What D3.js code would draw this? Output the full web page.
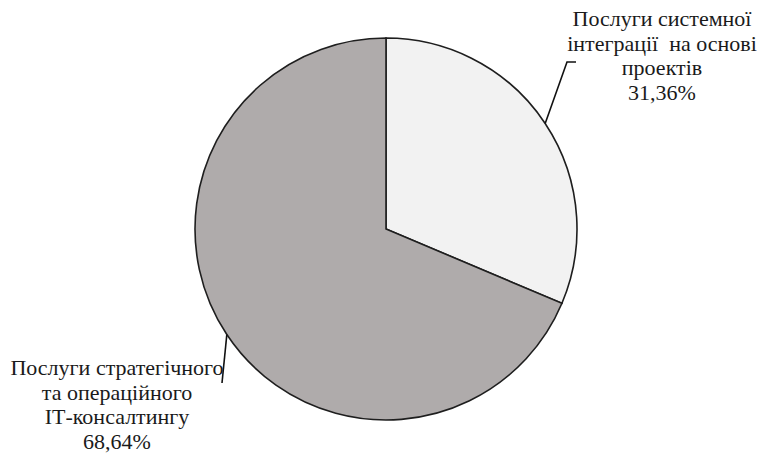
<!DOCTYPE html>
<html lang="uk">
<head>
<meta charset="utf-8">
<script src="https://cdn.jsdelivr.net/npm/d3@7"></script>
<style>
  @font-face {
    font-family: 'LabelSerif';
    src: local('Liberation Serif'), local('LiberationSerif'), local('Liberation Serif Regular'), local('LiberationSerif-Regular');
  }
  body { margin: 0; }
</style>
</head>
<body>
<svg id="chart" width="766" height="454"></svg>
<script>
'use strict';

// shares of revenue by service type, percent
var categories = ['integration', 'consulting'];
var shares = [31.36, 68.64];
var labelLines = [
  ['Послуги системної', 'інтеграції\u00a0 на основі', 'проектів'],
  ['Послуги стратегічного', 'та операційного', 'ІТ-консалтингу']
];
var sliceColors = ['#f2f2f2', '#afabab'];

var width = 766, height = 454;
var cx = 386, cy = 229, radius = 191;
var fontSize = 22, lineHeight = 24.5;
var fontFamily = "'Liberation Serif', 'LabelSerif', 'Times New Roman', 'FreeSerif', serif";

// where each label block sits and where its leader line bends
var labelBoxes = [
  { x: 662, y: 26, elbow: [567, 62], tail: [576, 62] },
  { x: 117, y: 375, elbow: [222, 383], tail: null }
];

var svg = d3.select('#chart');

var data = categories.map(function(c, i) {
  return { key: c, value: shares[i], lines: labelLines[i], color: sliceColors[i], box: labelBoxes[i] };
});

var pie = d3.pie()
  .sort(null)
  .value(function(d) { return d.value; });

var arc = d3.arc()
  .innerRadius(0)
  .outerRadius(radius);

var g = svg.append('g')
  .attr('transform', 'translate(' + cx + ',' + cy + ')');

var arcs = pie(data);

g.selectAll('path')
  .data(arcs)
  .enter()
  .append('path')
  .attr('d', arc)
  .attr('fill', function(d) { return d.data.color; })
  .attr('stroke', '#1e1e1e')
  .attr('stroke-width', 1.6)
  .attr('stroke-linejoin', 'miter');

// leader lines start on the rim at the middle of each slice
arcs.forEach(function(d) {
  var mid = (d.startAngle + d.endAngle) / 2;
  var sx = cx + radius * Math.sin(mid);
  var sy = cy - radius * Math.cos(mid);
  var pts = [[sx, sy], d.data.box.elbow];
  if (d.data.box.tail) pts.push(d.data.box.tail);
  svg.append('path')
    .attr('d', d3.line()(pts))
    .attr('fill', 'none')
    .attr('stroke', '#111')
    .attr('stroke-width', 1.6);
});

var fmt = function(v) { return d3.format('.2f')(v).replace('.', ',') + '%'; };

data.forEach(function(d) {
  d.lines.concat([fmt(d.value)]).forEach(function(line, i) {
    svg.append('text')
      .attr('x', d.box.x)
      .attr('y', d.box.y + i * lineHeight)
      .attr('text-anchor', 'middle')
      .attr('font-family', fontFamily)
      .style('font-family', fontFamily)
      .attr('font-size', fontSize)
      .attr('fill', '#1a1a1a')
      .text(line);
  });
});
</script>
</body>
</html>
